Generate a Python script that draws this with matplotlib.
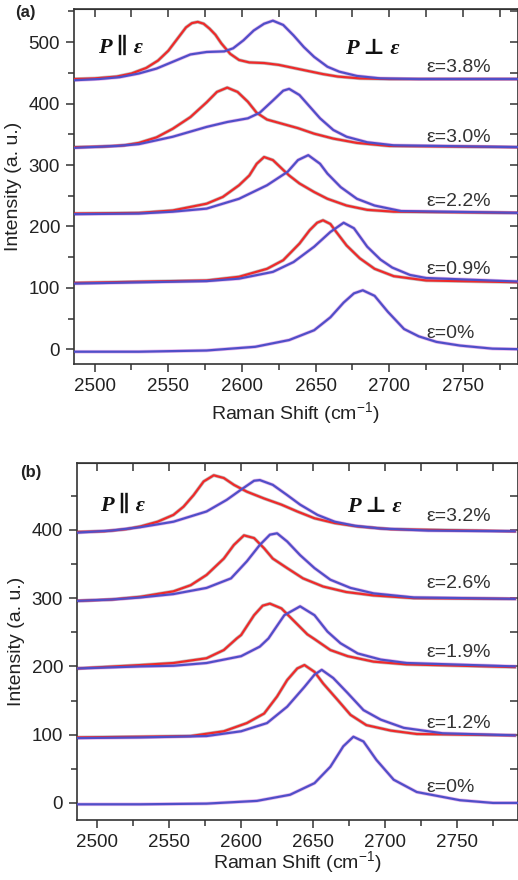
import matplotlib
matplotlib.use("Agg")
import matplotlib.pyplot as plt
from matplotlib.ticker import MultipleLocator, NullFormatter

plt.rcParams['font.family'] = ['Liberation Sans', 'DejaVu Sans']
plt.rcParams['mathtext.fontset'] = 'custom'
plt.rcParams['mathtext.rm'] = 'Liberation Sans'
plt.rcParams['mathtext.it'] = 'Liberation Sans:italic'
plt.rcParams['mathtext.bf'] = 'Liberation Sans:bold'

# ---------------- Panel (a) data ----------------
a_labels = ['ε=3.8%', 'ε=3.0%', 'ε=2.2%', 'ε=0.9%', 'ε=0%']
a_label_y = [458, 345, 241, 130, 26]

a38_par_x = [2486, 2500, 2515, 2525, 2535, 2543, 2550, 2556, 2562, 2566, 2570, 2574, 2578, 2582, 2586, 2592, 2598, 2605, 2615, 2625, 2635, 2645, 2655, 2665, 2680, 2700, 2790]
a38_par_y = [440, 441, 444, 449, 458, 470, 486, 505, 524, 531, 533, 530, 522, 512, 498, 481, 471, 467, 466, 463, 458, 453, 448, 444, 441, 440, 440]
a38_perp_x = [2486, 2503, 2517, 2530, 2542, 2553, 2565, 2576, 2588, 2594, 2601, 2608, 2615, 2621, 2628, 2635, 2642, 2649, 2658, 2666, 2678, 2694, 2720, 2790]
a38_perp_y = [438, 440, 443, 449, 457, 468, 480, 484, 485, 490, 503, 519, 530, 535, 528, 511, 492, 476, 460, 452, 445, 441, 440, 440]

a30_par_x = [2486, 2505, 2520, 2530, 2542, 2553, 2565, 2576, 2583, 2590, 2597, 2604, 2610, 2617, 2626, 2638, 2649, 2662, 2678, 2700, 2790]
a30_par_y = [329, 330, 332, 336, 345, 359, 378, 402, 419, 426, 419, 403, 385, 374, 368, 360, 351, 343, 336, 331, 329]
a30_perp_x = [2486, 2515, 2530, 2553, 2576, 2590, 2604, 2612, 2621, 2628, 2632, 2639, 2646, 2653, 2662, 2671, 2685, 2703, 2790]
a30_perp_y = [328, 331, 334, 346, 362, 370, 376, 385, 405, 421, 424, 414, 395, 376, 357, 346, 337, 332, 329]

a22_par_x = [2486, 2530, 2553, 2576, 2587, 2598, 2605, 2610, 2615, 2621, 2628, 2632, 2639, 2649, 2658, 2671, 2685, 2703, 2790]
a22_par_y = [221, 222, 226, 237, 248, 267, 283, 302, 313, 308, 292, 283, 270, 256, 245, 234, 227, 224, 222]
a22_perp_x = [2486, 2530, 2553, 2576, 2598, 2617, 2631, 2638, 2645, 2653, 2658, 2667, 2678, 2690, 2708, 2790]
a22_perp_y = [220, 221, 224, 229, 245, 267, 289, 308, 316, 302, 286, 264, 245, 234, 225, 222]

a09_par_x = [2486, 2530, 2576, 2598, 2617, 2628, 2639, 2646, 2651, 2655, 2660, 2664, 2671, 2680, 2690, 2703, 2725, 2790]
a09_par_y = [108, 110, 112, 118, 131, 145, 172, 194, 206, 210, 204, 191, 169, 148, 131, 119, 112, 109]
a09_perp_x = [2486, 2530, 2576, 2598, 2621, 2635, 2649, 2660, 2669, 2676, 2685, 2694, 2702, 2714, 2725, 2790]
a09_perp_y = [107, 109, 111, 115, 126, 142, 167, 191, 206, 197, 167, 146, 133, 121, 116, 110]

a00_perp_x = [2486, 2530, 2576, 2609, 2632, 2649, 2660, 2669, 2676, 2682, 2690, 2699, 2710, 2720, 2732, 2748, 2770, 2790]
a00_perp_y = [-4, -4, -2, 4, 15, 31, 52, 76, 91, 96, 87, 61, 33, 21, 12, 6, 1, 0]

# ---------------- Panel (b) data ----------------
b_labels = ['ε=3.2%', 'ε=2.6%', 'ε=1.9%', 'ε=1.2%', 'ε=0%']
b_label_y = [419, 322, 220, 117, 22]

b32_par_x = [2486, 2505, 2520, 2530, 2542, 2553, 2560, 2567, 2574, 2581, 2588, 2595, 2604, 2616, 2628, 2639, 2651, 2665, 2681, 2704, 2790]
b32_par_y = [397, 398, 401, 405, 412, 422, 434, 451, 471, 480, 476, 466, 456, 446, 437, 427, 417, 410, 405, 401, 398]
b32_perp_x = [2486, 2510, 2530, 2553, 2576, 2590, 2600, 2609, 2613, 2622, 2632, 2641, 2653, 2665, 2679, 2697, 2730, 2790]
b32_perp_y = [396, 399, 404, 412, 427, 444, 459, 472, 473, 466, 451, 437, 422, 412, 406, 402, 399, 398]

b26_par_x = [2486, 2510, 2530, 2553, 2565, 2576, 2588, 2595, 2602, 2609, 2616, 2622, 2632, 2643, 2657, 2673, 2692, 2720, 2790]
b26_par_y = [296, 298, 302, 310, 319, 334, 358, 378, 392, 388, 373, 358, 344, 329, 317, 309, 304, 300, 299]
b26_perp_x = [2486, 2510, 2530, 2553, 2576, 2593, 2604, 2613, 2620, 2625, 2632, 2641, 2651, 2662, 2676, 2692, 2720, 2790]
b26_perp_y = [296, 298, 301, 306, 315, 329, 354, 378, 393, 395, 383, 363, 344, 327, 315, 307, 301, 299]

b19_par_x = [2486, 2530, 2553, 2576, 2588, 2597, 2600, 2609, 2615, 2620, 2628, 2637, 2646, 2651, 2662, 2674, 2692, 2715, 2790]
b19_par_y = [197, 202, 205, 212, 224, 241, 246, 275, 289, 292, 285, 266, 247, 240, 224, 215, 207, 203, 199]
b19_perp_x = [2486, 2530, 2553, 2576, 2600, 2613, 2619, 2630, 2641, 2651, 2660, 2669, 2681, 2697, 2715, 2790]
b19_perp_y = [197, 200, 201, 205, 215, 229, 241, 275, 288, 275, 251, 234, 219, 210, 205, 200]

b12_par_x = [2486, 2530, 2565, 2588, 2604, 2616, 2625, 2632, 2639, 2644, 2651, 2657, 2667, 2676, 2687, 2704, 2722, 2790]
b12_par_y = [96, 97, 98, 105, 117, 131, 156, 180, 197, 202, 192, 175, 151, 129, 114, 106, 101, 99]
b12_perp_x = [2486, 2530, 2576, 2600, 2618, 2632, 2644, 2651, 2656, 2664, 2674, 2685, 2697, 2713, 2740, 2790]
b12_perp_y = [95, 96, 98, 105, 117, 141, 170, 188, 195, 183, 161, 136, 122, 110, 102, 99]

b00_perp_x = [2486, 2530, 2576, 2611, 2634, 2651, 2662, 2671, 2678, 2685, 2694, 2706, 2722, 2752, 2775, 2792]
b00_perp_y = [-2, -2, -1, 3, 12, 29, 53, 83, 97, 90, 63, 34, 16, 4, 0, 0]

RED = '#ee2a2a'
BLUE = '#4f4fc8'
RED_DATA = '#333333'
BLUE_DATA = '#d070dc'
SPINE = '#333333'

fig = plt.figure(figsize=(5.18, 8.8), dpi=100)
ax_a = fig.add_axes([74 / 518, 1 - 364 / 880, (517.5 - 74) / 518, (364 - 9) / 880])
ax_b = fig.add_axes([77 / 518, 1 - 820 / 880, (517.5 - 77) / 518, (820 - 463) / 880])


def draw_pair(ax, xs, ys, fit_col, data_col, data_alpha):
    ax.plot(xs, ys, color=data_col, lw=2.6, alpha=data_alpha, zorder=2)
    ax.plot(xs, ys, color=fit_col, lw=1.6, zorder=3)


def style(ax, xlim, ylim, xlabelpad):
    ax.set_xlim(*xlim)
    ax.set_ylim(*ylim)
    ax.xaxis.set_major_locator(MultipleLocator(50))
    ax.xaxis.set_minor_locator(MultipleLocator(25))
    ax.yaxis.set_major_locator(MultipleLocator(100))
    ax.yaxis.set_minor_locator(MultipleLocator(50))
    ax.tick_params(which='both', direction='out', top=False, right=False,
                   labelsize=13.5, width=1.1, color=SPINE, labelcolor='#222222')
    ax.tick_params(which='major', length=6, pad=4)
    ax.tick_params(which='minor', length=4)
    for s in ax.spines.values():
        s.set_color(SPINE)
        s.set_linewidth(1.2)
    sx = ax.secondary_xaxis('top')
    sx.xaxis.set_major_locator(MultipleLocator(25))
    sx.xaxis.set_major_formatter(NullFormatter())
    sx.tick_params(direction='in', length=6, width=1.1, color=SPINE)
    sx.spines['top'].set_color(SPINE)
    sy = ax.secondary_yaxis('right')
    sy.yaxis.set_major_locator(MultipleLocator(50))
    sy.yaxis.set_major_formatter(NullFormatter())
    sy.tick_params(direction='in', length=6, width=1.1, color=SPINE)
    ax.set_xlabel('Raman Shift (cm$^{-1}$)', fontsize=14, labelpad=xlabelpad, color='#222222')
    ax.set_ylabel('Intensity (a. u.)', fontsize=14, labelpad=5, color='#222222')


pfont = dict(family=['Liberation Serif', 'DejaVu Serif'], weight='bold', style='italic', fontsize=16, color='#111111')

# Panel (a)
for xs, ys in [(a38_par_x, a38_par_y), (a30_par_x, a30_par_y), (a22_par_x, a22_par_y), (a09_par_x, a09_par_y)]:
    draw_pair(ax_a, xs, ys, RED, RED_DATA, 0.3)
for xs, ys in [(a38_perp_x, a38_perp_y), (a30_perp_x, a30_perp_y), (a22_perp_x, a22_perp_y), (a09_perp_x, a09_perp_y), (a00_perp_x, a00_perp_y)]:
    draw_pair(ax_a, xs, ys, BLUE, BLUE_DATA, 0.5)
style(ax_a, (2486, 2787), (-24, 554), 4)
for lab, ly in zip(a_labels, a_label_y):
    ax_a.text(2725, ly, lab, fontsize=14, ha='left', va='center', color='#333333')
ax_a.text(0.104, 0.89, 'P ∥ ε', transform=ax_a.transAxes, ha='center', va='center', **pfont)
ax_a.text(0.672, 0.887, 'P ⊥ ε', transform=ax_a.transAxes, ha='center', va='center', **pfont)

# Panel (b)
for xs, ys in [(b32_par_x, b32_par_y), (b26_par_x, b26_par_y), (b19_par_x, b19_par_y), (b12_par_x, b12_par_y)]:
    draw_pair(ax_b, xs, ys, RED, RED_DATA, 0.3)
for xs, ys in [(b32_perp_x, b32_perp_y), (b26_perp_x, b26_perp_y), (b19_perp_x, b19_perp_y), (b12_perp_x, b12_perp_y), (b00_perp_x, b00_perp_y)]:
    draw_pair(ax_b, xs, ys, BLUE, BLUE_DATA, 0.5)
style(ax_b, (2486, 2792), (-25, 498), -1)
for lab, ly in zip(b_labels, b_label_y):
    ax_b.text(2729, ly, lab, fontsize=14, ha='left', va='center', color='#333333')
ax_b.text(0.103, 0.88, 'P ∥ ε', transform=ax_b.transAxes, ha='center', va='center', **pfont)
ax_b.text(0.675, 0.877, 'P ⊥ ε', transform=ax_b.transAxes, ha='center', va='center', **pfont)

fig.text(15 / 518, 1 - 12 / 880, '(a)', fontsize=12, weight='bold', ha='left', va='center', color='#222222')
fig.text(20 / 518, 1 - 472 / 880, '(b)', fontsize=12, weight='bold', ha='left', va='center', color='#222222')

fig.savefig('out.png', dpi=100)
